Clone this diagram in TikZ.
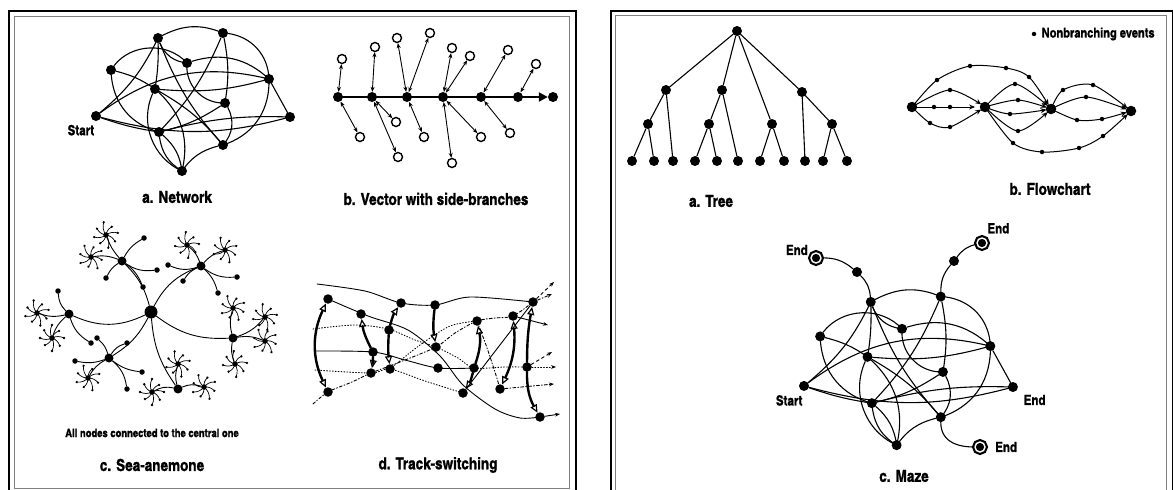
\documentclass[tikz,border=0pt]{standalone}
\usepackage{fontspec}
\newfontfamily\cnfont{texgyreheroscn-bold.otf}[FakeBold=1.2]
\usetikzlibrary{positioning}
\usetikzlibrary{arrows.meta}

\tikzset{
  dot/.style={circle,fill,inner sep=0pt,minimum size=10pt},
  hub/.style={circle,fill,inner sep=0pt,minimum size=9pt},
  knot/.style={circle,fill,inner sep=0pt,minimum size=5.5pt},
  bead/.style={circle,fill,inner sep=0pt,minimum size=4.5pt},
  hollow/.style={circle,draw,line width=1.4pt,inner sep=0pt,minimum size=9pt},
  goal/.style={circle,draw,fill,double=white,double distance=1.4pt,line width=2.2pt,inner sep=0pt,minimum size=10pt},
  link/.style={line width=1.1pt},
  twig/.style={line width=0.9pt},
  gate/.tip={Triangle[open,length=8pt,width=7pt,line width=1.2pt]},
  rail/.style={line width=2.4pt},
  track/.style={line width=0.9pt},
  flow/.style={line width=1pt,-{Stealth[length=6pt,width=5pt]},shorten >=4.5pt},
  side/.style={line width=0.9pt,{Stealth[length=5pt,width=4pt]}-{Stealth[length=5pt,width=4pt]}},
  caption/.style={font=\cnfont\fontsize{16.5}{18}\selectfont},
  lbl/.style={font=\cnfont\fontsize{14}{16}\selectfont,inner sep=1pt},
  tuft/.pic={
    \foreach \a/\r in {0/12, 45/10, 90/13, 135/11, 180/12, 225/10, 270/13, 315/11}{
      \draw[line width=0.7pt] (0,0) to[bend left=25] (\a:\r pt);
      \fill (\a:\r pt) circle (1.3pt);
    }
  }
}

% the tangled network, also reused for the maze
\newcommand\tangle{%
  \foreach \p/\x/\y in {t1/158/38, t2/223/33, t3/187/63, t4/111/70, t5/269/79, t6/155/89,
                        t7/225/103, t8/96/116, t9/290/117, t10/159/132, t11/223/145, t12/182/171}
    \node[dot] (\p) at (\x,\y) {};
  \foreach \p/\q/\w in {t4/t3/50, t8/t5/25, t1/t6/5, t1/t3/-30, t1/t11/-10, t2/t5/40,
                        t2/t7/10, t2/t10/10, t3/t7/-45, t5/t9/0, t5/t11/35, t6/t5/-10,
                        t4/t6/10, t4/t10/-35, t8/t9/-15, t8/t10/-5, t8/t1/-12, t6/t12/-45,
                        t6/t12/30, t10/t12/20, t10/t12/-25, t10/t9/8, t7/t10/10, t7/t11/35,
                        t6/t11/10, t3/t5/30, t1/t2/25, t11/t12/-20}
    \draw[link] (\p) to[bend left=\w] (\q);
  \node[lbl,anchor=north east] (start) at ([xshift=3pt,yshift=-4pt]t8.south west) {Start};
}

\begin{document}
\begin{tikzpicture}[x=1pt,y=-1pt,line cap=round]
\useasboundingbox (0,0) rectangle (1173,490);
\clip (0,0) rectangle (1173,490);

% frames
\draw[line width=2pt] (8.5,10.5) rectangle (575.5,530);
\draw[gray,line width=0.8pt] (14,16.5) rectangle (569,488.5);
\draw[line width=2pt] (611,10.5) rectangle (1173,530);
\draw[gray,line width=0.8pt] (615,15.5) rectangle (1166,500);

% a. Network
\begin{scope}[name prefix=net-]
  \tangle
\end{scope}
\node[caption] (capnet) at (177,197) {a. Network};

% b. Vector with side-branches
\foreach \p/\x in {v1/338, v2/372, v3/407, v4/443, v5/481, v6/518, v7/553}
  \node[dot] (\p) at (\x,97) {};
\draw[line width=2.2pt,-{Triangle[length=9pt,width=9pt]}] (v1) -- (v7);
\foreach \p/\x/\y in {o1/342/59, o2/375/47, o3/397/38, o4/430/33, o5/452/48, o6/470/56,
                      o7/508/50, o8/536/64, o9/360/137, o10/396/122, o11/398/157,
                      o12/424/137, o13/452/163, o14/481/137, o15/510/133}
  \node[hollow] (\p) at (\x,\y) {};
\foreach \p/\q in {v1/o1, v2/o2, v3/o3, v3/o4, v4/o5, v4/o6, v5/o7, v6/o8,
                   v1/o9, v2/o10, v2/o11, v3/o12, v4/o13, v4/o14, v5/o15}
  \draw[side] (\p) -- (\q);
\node[caption] (capvec) at (436,199) {b. Vector with side-branches};

% c. Sea-anemone
\node[dot,minimum size=13pt] (core) at (151,312) {};
\foreach \p/\x/\y in {ha/122/261, hb/201/266, hc/69/314, hd/233/338, he/109/358, hf/178/389}
  \node[hub] (\p) at (\x,\y) {};
\foreach \p/\x/\y/\r in {sa1/106/235/10, sa2/91/257/30, sb1/187/245/5, sb2/225/250/20,
                         sc1/37/313/15, sc2/52/338/0, sd1/233/308/25, sd2/265/317/10,
                         sd3/265/341/30, sd4/235/364/5, se1/88/378/20, sf1/178/364/15,
                         sf2/152/392/0, sf3/204/387/25}{
  \node[knot] (\p) at (\x,\y) {};
  \pic[rotate=\r] at (\p) {tuft};
}
\foreach \p/\x/\y in {la1/144/238, la2/157/270, la3/143/287, la4/106/278,
                      lb1/168/265, lb2/183/281, lb3/237/277, lb4/218/293,
                      lc1/58/291, lc2/91/343, le1/75/361, le2/97/338,
                      le3/127/343, le4/142/372, le5/127/389}
  \node[bead,minimum size=5.5pt] (\p) at (\x,\y) {};
\foreach \p/\q/\w in {core/ha/-15, core/hb/20, core/hc/25, core/hd/-20, core/he/15, core/hf/-15,
                      ha/sa1/10, ha/sa2/-15, ha/la1/15, ha/la2/-20, ha/la3/15, ha/la4/-15,
                      hb/sb1/-15, hb/sb2/15, hb/lb1/20, hb/lb2/-15, hb/lb3/-20, hb/lb4/15,
                      hc/sc1/15, hc/sc2/-15, hc/lc1/20, hc/lc2/-20,
                      hd/sd1/15, hd/sd2/-15, hd/sd3/15, hd/sd4/-15,
                      he/se1/-15, he/le1/15, he/le2/-15, he/le3/20, he/le4/-15, he/le5/20,
                      hf/sf1/15, hf/sf2/-20, hf/sf3/20}
  \draw[twig] (\p) to[bend left=\w] (\q);
\node[font=\cnfont\fontsize{11.5}{13}\selectfont] (note) at (152,433) {All nodes connected to the central one};
\node[caption] (capsea) at (152,465) {c. Sea-anemone};

% d. Track-switching
\foreach \p/\x/\y in {d1/328/299, d2/328/392, d3/361/314, d4/373/352, d5/371/373,
                      d6/401/303, d7/389/330, d8/390/369, d9/435/305, d10/436/347,
                      d11/438/368, d12/477/321, d13/474/368, d14/463/393, d15/513/316,
                      d16/500/389, d17/533/302, d18/527/367, d19/540/417}
  \node[dot,minimum size=9.5pt] (\p) at (\x,\y) {};
\foreach \p/\x/\y in {in1/317/284, in2/313/329, in3/315/351, in4/315/370, in5/313/404,
                      out0/554/282, out1/552/294, out2/548/325, out3/552/352,
                      out4/556/367, out5/554/384, out6/560/414}
  \coordinate (\p) at (\x,\y);
\draw[track] plot[smooth] coordinates {(in1) (365,291) (d6) (d9) (470,297) (d17)};
\draw[track,dashed,-{Stealth[length=5pt]}] (d17) -- (out0);
\draw[track] plot[smooth] coordinates {(d1) (368,316) (408,330) (440,356) (463,385) (495,409) (520,418) (d19)};
\draw[track,-{Stealth[length=5pt]}] (d19) -- (out6);
\draw[track,dotted] plot[smooth] coordinates {(in2) (355,325) (388,329) (415,340) (d10) (458,358) (d13) (505,367) (d18)};
\draw[track,dotted,-{Stealth[length=5pt]}] (d18) -- (out4);
\draw[track] plot[smooth] coordinates {(in3) (d4) (405,360) (d11) (d13)};
\draw[track,dotted] plot[smooth] coordinates {(in4) (d5) (d8) (425,381) (d14)};
\draw[track,dash dot] plot[smooth] coordinates {(in5) (d2) (352,382) (d5) (400,362) (d10) (455,333) (d12) (495,318) (d15) (d17)};
\draw[track,dash dot,-{Stealth[length=5pt]}] (d17) -- (out1);
\draw[track,dotted] plot[smooth] coordinates {(d8) (420,345) (450,326) (d12)};
\draw[track,-{Stealth[length=5pt]}] (d15) -- (out2);
\draw[track,dash dot] plot[smooth] coordinates {(d12) (486,345) (495,372) (d16)};
\draw[track,dash dot,-{Stealth[length=5pt]}] (d16) -- (out5);
\draw[track] (d14) -- (d17);
\draw[track,dashed,-{Stealth[length=5pt]}] (d18) -- (out3);
\draw[rail,gate-gate] (d1) to[bend right=25] (d2);
\draw[rail,-gate] (d4) to[bend left=10] (d3);
\draw[rail,-gate] (d4) to[bend left=5] (d5);
\draw[rail,-gate] (d7) to[bend left=10] (d6);
\draw[rail,-gate] (d7) to[bend right=5] (d8);
\draw[rail,-gate] (d9) to[bend right=8] (d10);
\draw[rail,-gate] (d13) to[bend right=15] (d12);
\draw[rail,-gate] (d13) to[bend left=10] (d14);
\draw[rail,gate-gate] (d15) to[bend left=15] (d16);
\draw[rail,-gate] (d18) to[bend left=5] (d17);
\draw[rail,-gate] (d18) to[bend right=15] (d19);
\node[caption] (captrack) at (438,465) {d. Track-switching};

% a. Tree
\node[dot] (root) at (737,31) {};
\foreach \p/\x/\y in {p1/666/90, p2/722/90, p3/802/92, q1/648/124, q2/709/124, q3/772/124, q4/832/124,
                      l1/632/161, l2/654/161, l3/673/161, l4/695/161, l5/717/161, l6/738/161,
                      l7/760/161, l8/784/161, l9/805/161, l10/823/161, l11/847/161}
  \node[dot] (\p) at (\x,\y) {};
\foreach \p/\q in {root/p1, root/p2, root/q3, root/p3, p1/q1, p1/l3, q1/l1, q1/l2,
                   p2/q2, p2/l6, q2/l4, q2/l5, q3/l7, q3/l8, p3/l9, p3/q4, q4/l10, q4/l11}
  \draw[link] (\p) -- (\q);
\node[caption] (captree) at (711,201) {a. Tree};

% b. Flowchart
\foreach \p/\x/\y in {f1/912/107, f2/985/107, f3/1051/109, f4/1131/111}
  \node[dot,minimum size=10.5pt] (\p) at (\x,\y) {};
\foreach \p/\x/\y in {e1/934/107, e2/950/107, e3/950/90, e4/930/123, e5/950/127,
                      e6/937/80, e7/970/66, e8/1006/68, e9/1029/77, e10/1015/84,
                      e11/1018/100, e12/1010/114, e13/1018/131, e14/1013/143, e15/1042/152,
                      e16/1079/148, e17/1103/136, e18/1063/90, e19/1093/85, e20/1086/97,
                      e21/1077/120, e22/1102/119}
  \node[bead] (\p) at (\x,\y) {};
\draw[flow] (f1) -- (f2);
\draw[flow] plot[smooth] coordinates {(f1) (e3) (f2)};
\draw[flow] plot[smooth] coordinates {(f1) (e4) (e5) (f2)};
\draw[flow] plot[smooth] coordinates {(f1) (e6) (e7) (e8) (e9) (f3)};
\draw[flow] plot[smooth] coordinates {(f2) (e10) (f3)};
\draw[flow] plot[smooth] coordinates {(f2) (e11) (f3)};
\draw[flow] plot[smooth] coordinates {(f2) (e12) (f3)};
\draw[flow] plot[smooth] coordinates {(f2) (e13) (f3)};
\draw[flow] plot[smooth] coordinates {(f2) (e14) (e15) (e16) (e17) (f4)};
\draw[flow] plot[smooth] coordinates {(f3) (e18) (e19) (f4)};
\draw[flow] plot[smooth] coordinates {(f3) (e20) (f4)};
\draw[flow] plot[smooth] coordinates {(f3) (e21) (e22) (f4)};
\node[bead] (key) at (1034,34) {};
\node[lbl,font=\cnfont\fontsize{13.5}{15}\selectfont,right=4pt of key] (keytext) {Nonbranching events};
\node[caption] (capflow) at (1050,189) {b. Flowchart};

% c. Maze
\begin{scope}[name prefix=maze-,shift={(700.6,261)},scale=1.077]
  \tangle
\end{scope}
\node[goal] (endA) at (816,258) {};
\node[dot] (m1) at (857,272) {};
\node[goal] (endB) at (982,243) {};
\node[dot] (m2) at (954,261) {};
\node[goal] (endC) at (980,447) {};
\draw[link] (endA) to[bend left=20] (m1);
\draw[link] (m1) to[bend left=20] (maze-t1);
\draw[link] (endB) to[bend right=20] (m2);
\draw[link] (m2) to[bend right=20] (maze-t2);
\draw[link] (maze-t11) .. controls +(0,28) and +(-16,0) .. (endC);
\node[lbl,left=1pt of endA,yshift=8pt] (endAtext) {End};
\node[lbl,above right=4pt and 0pt of endB] (endBtext) {End};
\node[lbl,below right=3pt and 6pt of maze-t9] (endDtext) {End};
\node[lbl,right=8pt of endC] (endCtext) {End};
\node[caption] (capmaze) at (904,476) {c. Maze};
\end{tikzpicture}
\end{document}
